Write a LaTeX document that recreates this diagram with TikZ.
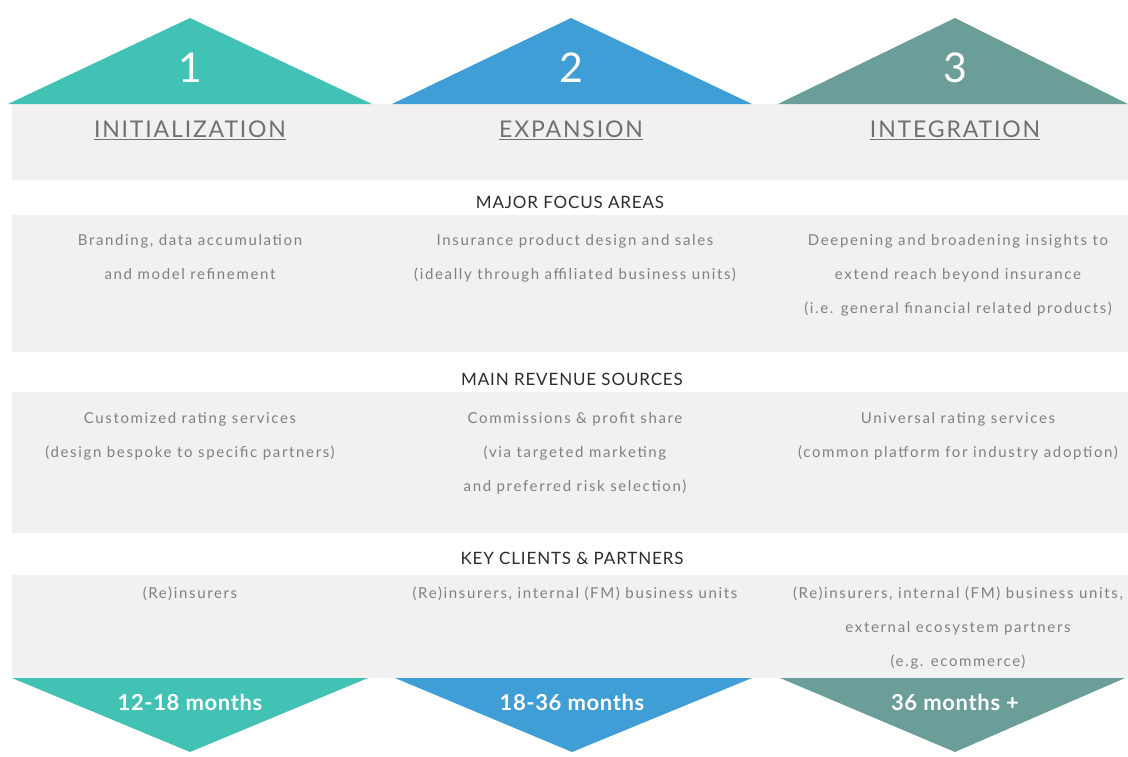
\documentclass[tikz,border=0pt]{standalone}
\usepackage{fontspec}
\setmainfont{Lato}
\definecolor{tealA}{RGB}{66,194,181}
\definecolor{blueB}{RGB}{62,158,213}
\definecolor{grayC}{RGB}{108,158,153}
\definecolor{band}{RGB}{241,241,241}
\definecolor{bodygray}{RGB}{128,128,128}
\definecolor{headdark}{RGB}{45,45,45}
\definecolor{phasegray}{RGB}{112,112,112}
\begin{document}
% body nodes: anchor=base is the baseline of the LAST line (34pt line pitch)
\begin{tikzpicture}[x=1pt,y=-1pt,
  body/.style={font={\fontsize{15}{34}\selectfont\addfontfeature{LetterSpace=11}}, text=bodygray, align=center, inner sep=0pt, anchor=base},
  sect/.style={font={\fontsize{17}{20}\selectfont\addfontfeature{LetterSpace=5}}, text=headdark, inner sep=0pt, anchor=base},
  phase/.style={font={\fontsize{23}{26}\selectfont\addfontfeature{LetterSpace=8}}, text=phasegray, inner sep=0pt},
  num/.style={font=\fontsize{41}{41}\selectfont, text=white, inner sep=0pt},
  dur/.style={font={\bfseries\fontsize{22}{24}\selectfont\addfontfeature{LetterSpace=3}}, text=white, inner sep=0pt}]
\useasboundingbox (0,0) rectangle (1128,756);
\fill[white] (0,0) rectangle (1128,756);
% bands
\fill[band] (12,104) rectangle (1128,180);
\fill[band] (12,215) rectangle (1128,352);
\fill[band] (12,392) rectangle (1128,533);
\fill[band] (12,575) rectangle (1128,678);
% top triangles
\fill[tealA] (8,104) -- (190,18) -- (372,104) -- cycle;
\fill[blueB] (392,104) -- (571,18) -- (752,104) -- cycle;
\fill[grayC] (778,104) -- (955,18) -- (1128,104) -- cycle;
% bottom triangles
\fill[tealA] (12,678) -- (368,678) -- (190,752) -- cycle;
\fill[blueB] (395,678) -- (752,678) -- (572,752) -- cycle;
\fill[grayC] (780,678) -- (1125,678) -- (955,752) -- cycle;
% numbers
\node[num] (n1) at (190,68) {1};
\node[num] (n2) at (571,68) {2};
\node[num] (n3) at (955,68) {3};
% phase names
\node[phase] (p1) at (190,130) {\underline{INITIALIZATION}};
\node[phase] (p2) at (571,130) {\underline{EXPANSION}};
\node[phase] (p3) at (955,130) {\underline{INTEGRATION}};
% section headers
\node[sect] (s1) at (570,208.5) {MAJOR FOCUS AREAS};
\node[sect] (s2) at (572,385) {MAIN REVENUE SOURCES};
\node[sect] (s3) at (572,564) {KEY CLIENTS \& PARTNERS};
% focus areas
\node[body] (f1) at (190,279.5) {Branding, data accumulation\\and model refinement};
\node[body] (f2) at (575,279.5) {Insurance product design and sales\\(ideally through affiliated business units)};
\node[body] (f3) at (958,313.5) {Deepening and broadening insights to\\extend reach beyond insurance\\(i.e. general financial related products)};
% revenue
\node[body] (r1) at (190,457) {Customized rating services\\(design bespoke to specific partners)};
\node[body] (r2) at (575,491) {Commissions \& profit share\\(via targeted marketing\\and preferred risk selection)};
\node[body] (r3) at (958,457) {Universal rating services\\(common platform for industry adoption)};
% clients
\node[body] (c1) at (190,598) {(Re)insurers};
\node[body] (c2) at (575,598) {(Re)insurers, internal (FM) business units};
\node[body] (c3) at (958,666) {(Re)insurers, internal (FM) business units,\\external ecosystem partners\\(e.g. ecommerce)};
% durations
\node[dur] (d1) at (190,702) {12-18 months};
\node[dur] (d2) at (572,702) {18-36 months};
\node[dur] (d3) at (955,702) {36 months +};
\end{tikzpicture}
\end{document}
